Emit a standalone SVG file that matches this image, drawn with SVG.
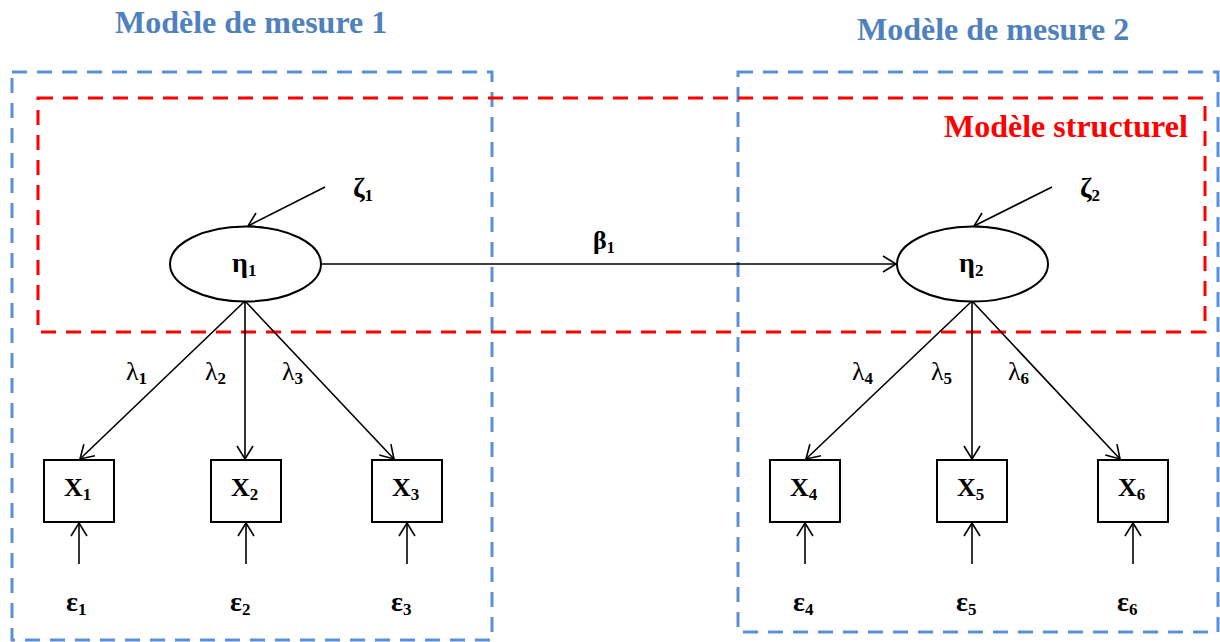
<svg xmlns="http://www.w3.org/2000/svg" width="1220" height="642" viewBox="0 0 1220 642">
<style>
.t{font-family:"Liberation Serif","Times New Roman",serif;font-weight:bold;fill:#000}
.title{font-family:"Liberation Serif","Times New Roman",serif;font-weight:bold;font-size:32px;fill:#4F81BD}
.red{font-family:"Liberation Serif","Times New Roman",serif;font-weight:bold;font-size:32px;fill:#FF0000}
.bluebox{fill:none;stroke:#5B8FD6;stroke-width:3;stroke-dasharray:15 10}
.redbox{fill:none;stroke:#FF0000;stroke-width:3;stroke-dasharray:15 10}
.node{fill:#fff;stroke:#000;stroke-width:2}
.edge{stroke:#000;stroke-width:1.6;fill:none;marker-end:url(#arr)}
.lam{font-family:"Liberation Serif","Times New Roman",serif;font-size:26px;fill:#000}
</style>
<defs>
<marker id="arr" markerUnits="userSpaceOnUse" markerWidth="16" markerHeight="18" refX="14" refY="8" orient="auto" viewBox="0 0 16 16">
<path d="M1,0 L14,8 L1,16" fill="none" stroke="#000" stroke-width="1.6"/>
</marker>
</defs>
<rect width="1220" height="642" fill="#fff"/>

<g id="frames">
<rect class="bluebox" x="12" y="72" width="480" height="568"/>
<rect class="bluebox" x="738" y="72" width="480" height="560"/>
<rect class="redbox" x="38" y="98" width="1167" height="234"/>
<text class="title" x="115" y="33">Modèle de mesure 1</text>
<text class="title" x="857" y="40">Modèle de mesure 2</text>
<text class="red" x="944" y="137">Modèle structurel</text>
</g>

<g id="connectors">
<line class="edge" x1="321" y1="264" x2="896" y2="264"/>
<line class="edge" x1="325" y1="187" x2="248" y2="226"/>
<line class="edge" x1="1052" y1="187" x2="974" y2="226"/>
<line class="edge" x1="245" y1="301" x2="80" y2="459"/>
<line class="edge" x1="245" y1="301" x2="245" y2="459"/>
<line class="edge" x1="245" y1="301" x2="394" y2="459"/>
<line class="edge" x1="972" y1="301" x2="806" y2="459"/>
<line class="edge" x1="972" y1="301" x2="972" y2="459"/>
<line class="edge" x1="972" y1="301" x2="1120" y2="459"/>
<line class="edge" x1="79" y1="564" x2="79" y2="523"/>
<line class="edge" x1="246" y1="564" x2="246" y2="523"/>
<line class="edge" x1="407" y1="564" x2="407" y2="523"/>
<line class="edge" x1="805" y1="564" x2="805" y2="523"/>
<line class="edge" x1="972" y1="564" x2="972" y2="523"/>
<line class="edge" x1="1133" y1="564" x2="1133" y2="523"/>
<text class="t" font-size="26" x="593" y="249">β<tspan font-size="16" dy="4">1</tspan></text>
<text class="t" font-size="28" x="353" y="197">ζ<tspan font-size="17" dy="4">1</tspan></text>
<text class="t" font-size="28" x="1080" y="197">ζ<tspan font-size="17" dy="4">2</tspan></text>
<text class="lam" x="126" y="380">λ<tspan class="t" font-size="17" dy="4">1</tspan></text>
<text class="lam" x="205" y="380">λ<tspan class="t" font-size="17" dy="4">2</tspan></text>
<text class="lam" x="282" y="380">λ<tspan class="t" font-size="17" dy="4">3</tspan></text>
<text class="lam" x="852" y="380">λ<tspan class="t" font-size="17" dy="4">4</tspan></text>
<text class="lam" x="931" y="380">λ<tspan class="t" font-size="17" dy="4">5</tspan></text>
<text class="lam" x="1008" y="380">λ<tspan class="t" font-size="17" dy="4">6</tspan></text>
</g>

<g id="eta1">
<ellipse class="node" cx="245.5" cy="264" rx="75.5" ry="37.5"/>
<text class="t" font-size="28" x="232" y="272">η<tspan font-size="17" dy="4">1</tspan></text>
</g>
<g id="eta2">
<ellipse class="node" cx="972.5" cy="264" rx="75.5" ry="37.5"/>
<text class="t" font-size="28" x="959" y="272">η<tspan font-size="17" dy="4">2</tspan></text>
</g>

<g id="x1"><rect class="node" x="44" y="460" width="70" height="62"/><text class="t" font-size="26" x="64" y="496">X<tspan font-size="17" dy="4">1</tspan></text></g>
<g id="x2"><rect class="node" x="211" y="460" width="70" height="62"/><text class="t" font-size="26" x="231" y="496">X<tspan font-size="17" dy="4">2</tspan></text></g>
<g id="x3"><rect class="node" x="372" y="460" width="70" height="62"/><text class="t" font-size="26" x="392" y="496">X<tspan font-size="17" dy="4">3</tspan></text></g>
<g id="x4"><rect class="node" x="770" y="460" width="70" height="62"/><text class="t" font-size="26" x="790" y="496">X<tspan font-size="17" dy="4">4</tspan></text></g>
<g id="x5"><rect class="node" x="937" y="460" width="70" height="62"/><text class="t" font-size="26" x="957" y="496">X<tspan font-size="17" dy="4">5</tspan></text></g>
<g id="x6"><rect class="node" x="1098" y="460" width="70" height="62"/><text class="t" font-size="26" x="1118" y="496">X<tspan font-size="17" dy="4">6</tspan></text></g>

<g id="e1"><text class="t" font-size="28" x="66" y="611">ε<tspan font-size="17" dy="4">1</tspan></text></g>
<g id="e2"><text class="t" font-size="28" x="230" y="611">ε<tspan font-size="17" dy="4">2</tspan></text></g>
<g id="e3"><text class="t" font-size="28" x="391" y="611">ε<tspan font-size="17" dy="4">3</tspan></text></g>
<g id="e4"><text class="t" font-size="28" x="793" y="611">ε<tspan font-size="17" dy="4">4</tspan></text></g>
<g id="e5"><text class="t" font-size="28" x="956" y="611">ε<tspan font-size="17" dy="4">5</tspan></text></g>
<g id="e6"><text class="t" font-size="28" x="1117" y="611">ε<tspan font-size="17" dy="4">6</tspan></text></g>
</svg>
